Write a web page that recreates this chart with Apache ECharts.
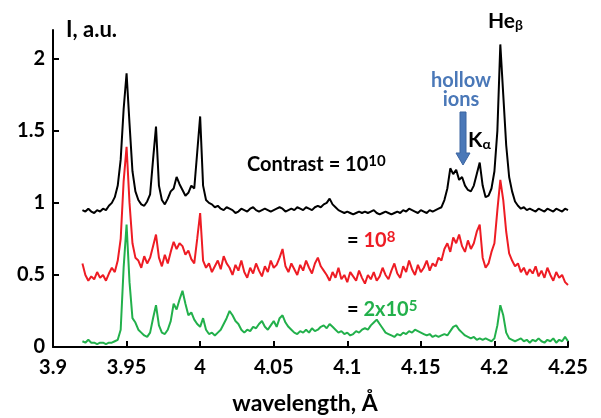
<!DOCTYPE html>
<html>
<head>
<meta charset="utf-8">
<script src="https://cdn.jsdelivr.net/npm/echarts@6/dist/echarts.min.js"></script>
<style>
html,body{margin:0;padding:0;background:#fff;}
#main{width:601px;height:418px;}
</style>
</head>
<body>
<div id="main"></div>
<script>
// sampling grid of the spectra (angstrom)
var wlStart = 3.920;
var wlStep = 0.002;

// Contrast = 10^10
var black = [0.95,0.94,0.96,0.94,0.93,0.95,0.94,0.96,0.95,0.98,1.00,1.04,1.12,1.30,1.65,1.90,1.55,1.22,1.08,1.02,
  0.99,0.98,1.01,1.06,1.30,1.53,1.12,1.02,0.99,1.03,1.08,1.10,1.18,1.13,1.09,1.05,1.07,1.12,1.10,1.35,
  1.60,1.12,1.02,
  1.00,0.99,0.97,0.98,0.96,0.95,0.97,0.96,0.95,0.93,0.94,0.96,0.95,
  0.94,0.96,0.97,0.95,0.94,0.95,0.96,0.95,0.94,0.95,0.96,0.97,0.96,0.94,0.95,0.96,0.95,0.97,0.96,0.95,
  0.97,0.96,0.95,0.97,0.98,0.97,0.99,1.00,1.03,0.99,0.97,0.95,0.94,0.93,0.94,0.93,0.92,0.93,0.94,0.93,
  0.94,0.93,0.94,0.95,0.93,0.92,0.93,0.94,0.93,0.92,0.93,0.94,0.93,0.95,0.94,0.96,0.95,0.94,0.93,0.95,
  0.94,0.93,0.95,0.94,0.95,
  0.96,0.97,1.02,1.10,1.24,1.20,1.23,1.16,1.18,1.12,1.09,1.08,1.12,1.20,1.28,1.12,1.04,1.05,1.10,1.22,
  1.50,2.10,1.75,1.40,1.18,1.08,1.01,0.98,0.96,0.97,0.95,0.96,0.95,0.94,0.96,0.95,0.94,0.96,0.95,0.94,
  0.96,0.95,0.94,0.96,0.95];

// = 10^8
var red = [0.58,0.50,0.46,0.49,0.47,0.52,0.48,0.50,0.46,0.51,0.55,0.52,0.60,0.75,1.15,1.39,1.00,0.72,0.62,0.60,
  0.55,0.63,0.58,0.62,0.70,0.78,0.62,0.56,0.64,0.58,0.66,0.73,0.68,0.72,0.70,0.64,0.67,0.61,0.58,0.75,
  0.93,0.60,0.55,
  0.58,0.52,0.56,0.60,0.54,0.63,0.58,0.55,0.50,0.57,0.53,0.60,0.52,0.48,0.55,0.51,0.58,0.53,0.49,0.56,
  0.52,0.60,0.55,
  0.57,0.62,0.68,0.56,
  0.52,0.58,0.54,0.50,0.57,0.53,0.60,0.55,0.51,0.58,0.62,0.56,0.53,0.50,0.46,0.52,0.48,0.55,0.47,0.50,
  0.45,0.52,0.49,0.46,0.53,0.48,0.44,0.50,0.47,0.52,0.46,
  0.49,0.55,0.50,0.47,0.53,0.58,0.51,0.48,0.56,0.52,0.60,0.54,0.50,0.57,0.52,0.55,0.60,0.53,0.58,0.56,
  0.62,0.60,0.68,0.72,0.66,0.76,0.72,0.78,0.70,0.66,0.74,0.68,0.72,0.80,0.85,0.62,0.55,0.58,0.66,0.72,
  0.95,1.16,1.02,0.80,0.65,0.60,
  0.56,0.58,0.52,0.55,0.50,0.54,0.51,0.56,0.49,0.53,0.48,0.55,0.50,0.46,0.52,0.48,0.50,0.45,0.43];

// = 2x10^5
var green = [0.04,0.03,0.05,0.03,0.03,0.02,0.03,0.03,0.02,0.03,0.03,0.04,0.05,0.12,0.55,0.85,0.45,0.20,0.17,0.12,
  0.10,0.08,0.07,0.10,0.20,0.29,0.15,0.10,0.09,0.12,0.18,0.30,0.26,0.33,0.39,0.30,0.22,0.24,0.19,0.16,
  0.14,0.20,0.12,
  0.09,0.10,0.08,0.10,0.12,0.16,0.20,0.25,0.22,0.18,0.16,0.12,0.10,0.12,0.11,0.14,0.13,0.16,0.18,0.14,
  0.12,0.15,0.18,
  0.14,0.20,0.22,0.17,
  0.14,0.12,0.10,0.09,0.11,0.10,0.12,0.10,0.13,0.11,0.12,0.14,0.15,0.13,0.16,0.14,0.12,0.10,0.11,0.09,
  0.10,0.08,0.09,0.11,0.10,0.12,0.13,0.12,0.15,0.17,0.19,
  0.16,0.13,0.10,0.09,0.08,0.07,0.09,0.08,0.10,0.09,0.11,0.10,0.12,0.11,0.10,0.09,0.08,0.09,0.07,0.08,
  0.07,0.08,0.09,0.08,0.11,0.14,0.15,0.12,0.10,0.08,0.07,0.06,0.07,0.05,0.06,0.05,0.06,0.05,0.04,0.06,
  0.15,0.29,0.22,0.10,0.06,0.05,
  0.04,0.05,0.06,0.04,0.05,0.03,0.05,0.04,0.06,0.04,0.03,0.05,0.04,0.06,0.03,0.05,0.04,0.07,0.04];

var yTicks = [0, 0.5, 1, 1.5, 2];

function pairs(vals){
  var out = [];
  for(var i=0;i<vals.length;i++){
    out.push([+(wlStart + i*wlStep).toFixed(3), vals[i]]);
  }
  return out;
}

var font = 'Lato, "Open Sans", sans-serif';
var RED = '#ee1c24', GREEN = '#22b04b', BLUE = '#4a78b8';

// text with a raised / lowered small part
function label(x, y, text, rich){
  return {type: 'text', x: x, y: y, style: {text: text, rich: rich, verticalAlign: 'middle'}};
}
function big(color){ return {font: 'bold 20px ' + font, fill: color, lineHeight: 22}; }
function sup(color){ return {font: 'bold 15px ' + font, fill: color, lineHeight: 15, verticalAlign: 'top'}; }
function sub(color){ return {font: 'bold 14px ' + font, fill: color, lineHeight: 14, verticalAlign: 'bottom'}; }

var myChart = echarts.init(document.getElementById('main'));

myChart.setOption({
  animation: false,
  grid: {left: 53, right: 33, top: 30, bottom: 71},
  xAxis: {
    type: 'value',
    min: 3.9, max: 4.25, interval: 0.05,
    axisLine: {lineStyle: {color: '#000', width: 2}},
    axisTick: {inside: true, length: 6, lineStyle: {color: '#000', width: 2}},
    axisLabel: {color: '#000', fontFamily: font, fontWeight: 'bold', fontSize: 20, margin: 11},
    splitLine: {show: false}
  },
  yAxis: {
    type: 'value',
    min: 0, max: 2.2,
    axisLine: {show: true, lineStyle: {color: '#000', width: 2}},
    axisTick: {show: true, inside: true, length: 6, customValues: yTicks, lineStyle: {color: '#000', width: 2}},
    axisLabel: {color: '#000', fontFamily: font, fontWeight: 'bold', fontSize: 20, margin: 8, customValues: yTicks},
    splitLine: {show: false}
  },
  series: [
    {type: 'line', data: pairs(black), showSymbol: false, lineStyle: {color: '#000', width: 2}, itemStyle: {color: '#000'}},
    {type: 'line', data: pairs(red), showSymbol: false, lineStyle: {color: RED, width: 2}, itemStyle: {color: RED}},
    {type: 'line', data: pairs(green), showSymbol: false, lineStyle: {color: GREEN, width: 2}, itemStyle: {color: GREEN}}
  ],
  graphic: [
    // axis titles
    {type: 'text', x: 66, y: 30, style: {text: 'I, a.u.', font: 'bold 22px ' + font, fill: '#000', verticalAlign: 'middle'}},
    {type: 'text', x: 305, y: 404, style: {text: 'wavelength, Å', align: 'center', verticalAlign: 'middle', font: 'bold 23px ' + font, fill: '#000'}},
    // spectrum labels
    label(247, 165, '{m|Contrast = 10}{s|10}', {m: big('#000'), s: sup('#000')}),
    label(347, 241, '{m|= }{r|10}{s|8}', {m: big('#000'), r: big(RED), s: sup(RED)}),
    label(347, 310, '{m|= }{g|2x10}{s|5}', {m: big('#000'), g: big(GREEN), s: sup(GREEN)}),
    // line labels
    label(488, 21, '{m|He}{s|β}', {m: {font: 'bold 21px ' + font, fill: '#000', lineHeight: 22}, s: sub('#000')}),
    label(468, 140, '{m|K}{s|α}', {m: {font: 'bold 21px ' + font, fill: '#000', lineHeight: 22}, s: sub('#000')}),
    {type: 'text', x: 461, y: 81, style: {text: 'hollow', align: 'center', verticalAlign: 'middle', font: 'bold 20px ' + font, fill: BLUE}},
    {type: 'text', x: 461, y: 100, style: {text: 'ions', align: 'center', verticalAlign: 'middle', font: 'bold 20px ' + font, fill: BLUE}},
    // arrow to the hollow ion lines
    {type: 'polygon', shape: {points: [[460,112],[466,112],[466,153],[470,153],[463,165],[456,153],[460,153]]}, style: {fill: BLUE, stroke: '#3b64a0', lineWidth: 1}}
  ]
});
</script>
</body>
</html>
